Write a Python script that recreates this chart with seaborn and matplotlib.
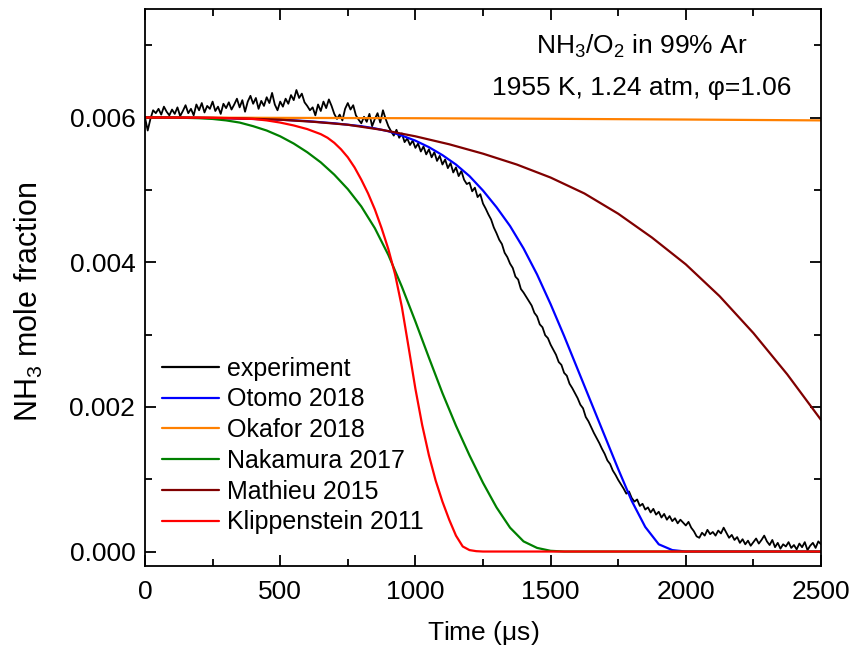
import numpy as np
import pandas as pd
import matplotlib
matplotlib.use("Agg")
import matplotlib.pyplot as plt
import seaborn as sns
from matplotlib.ticker import MultipleLocator, FormatStrFormatter

# ---------------- data ----------------
exp_dt = 10
exp_vals = [
    0.00600, 0.00582, 0.00598, 0.00610, 0.00606, 0.00612, 0.00604, 0.00615, 0.00608, 0.00603,
    0.00611, 0.00605, 0.00614, 0.00602, 0.00609, 0.00617, 0.00606, 0.00612, 0.00603, 0.00618,
    0.00610, 0.00620, 0.00607, 0.00616, 0.00612, 0.00622, 0.00609, 0.00615, 0.00605, 0.00619,
    0.00613, 0.00621, 0.00611, 0.00618, 0.00626, 0.00614, 0.00624, 0.00608, 0.00622, 0.00630,
    0.00619, 0.00627, 0.00612, 0.00623, 0.00616, 0.00628, 0.00620, 0.00634, 0.00618, 0.00610,
    0.00622, 0.00615, 0.00626, 0.00619, 0.00631, 0.00624, 0.00638, 0.00627, 0.00633, 0.00621,
    0.00616, 0.00610, 0.00614, 0.00603, 0.00618, 0.00609, 0.00622, 0.00613, 0.00625, 0.00616,
    0.00605, 0.00598, 0.00604, 0.00596, 0.00612, 0.00620, 0.00611, 0.00617, 0.00603, 0.00597,
    0.00592, 0.00601, 0.00594, 0.00605, 0.00588, 0.00598, 0.00606, 0.00593, 0.00610, 0.00598,
    0.00588, 0.00581, 0.00575, 0.00583, 0.00572, 0.00578, 0.00566, 0.00571, 0.00562, 0.00568,
    0.00558, 0.00564, 0.00553, 0.00560, 0.00549, 0.00556, 0.00545, 0.00552, 0.00540, 0.00547,
    0.00535, 0.00542, 0.00530, 0.00537, 0.00524, 0.00531, 0.00519, 0.00526, 0.00514, 0.00508,
    0.00510, 0.00498, 0.00503, 0.00490, 0.00494, 0.00481, 0.00474, 0.00466, 0.00459, 0.00448,
    0.00440, 0.00431, 0.00425, 0.00413, 0.00407, 0.00398, 0.00392, 0.00380, 0.00376, 0.00363,
    0.00358, 0.00352, 0.00346, 0.00340, 0.00330, 0.00325, 0.00314, 0.00310, 0.00299, 0.00295,
    0.00286, 0.00279, 0.00272, 0.00262, 0.00258, 0.00247, 0.00243, 0.00232, 0.00226, 0.00219,
    0.00212, 0.00203, 0.00198, 0.00186, 0.00180, 0.00172, 0.00164, 0.00157, 0.00150, 0.00142,
    0.00135, 0.00126, 0.00121, 0.00112, 0.00106, 0.00099, 0.00093, 0.00087, 0.00080, 0.00083,
    0.00074, 0.00069, 0.00072, 0.00063, 0.00066, 0.00058, 0.00061, 0.00054, 0.00059, 0.00051,
    0.00055, 0.00047, 0.00052, 0.00044, 0.00049, 0.00042, 0.00046, 0.00039, 0.00044, 0.00040,
    0.00036, 0.00041, 0.00033, 0.00028, 0.00021, 0.00019, 0.00026, 0.00022, 0.00030, 0.00024,
    0.00027, 0.00022, 0.00029, 0.00025, 0.00033, 0.00026, 0.00019, 0.00023, 0.00016, 0.00020,
    0.00012, 0.00017, 0.00010, 0.00015, 0.00008, 0.00013, 0.00018, 0.00011, 0.00016, 0.00022,
    0.00014, 0.00009, 0.00016, 0.00006, 0.00012, 0.00004, 0.00010, 0.00007, 0.00013, 0.00005,
    0.00009, 0.00003, 0.00011, 0.00006, 0.00013, 0.00002, 0.00008, 0.00012, 0.00005, 0.00014,
    0.00010,
]
exp_time = [i * exp_dt for i in range(len(exp_vals))]

otomo_t = [0, 100, 200, 300, 400, 500, 600, 700, 800, 850, 900, 950, 1000, 1050, 1100, 1150,
           1200, 1250, 1300, 1350, 1400, 1450, 1500, 1550, 1600, 1650, 1700, 1750, 1800, 1850,
           1900, 1950, 2000, 2500]
otomo_v = [0.006, 0.005999, 0.005995, 0.00599, 0.00598, 0.00597, 0.00595, 0.00592, 0.00588,
           0.00585, 0.00581, 0.00575, 0.00568, 0.00559, 0.00548, 0.00535, 0.00519, 0.00499,
           0.00476, 0.00450, 0.00419, 0.00383, 0.00342, 0.00298, 0.00252, 0.00206, 0.00160,
           0.00114, 0.00070, 0.00034, 0.00010, 0.00002, 0.0, 0.0]

okafor_t = [0, 500, 1000, 1500, 2000, 2500]
okafor_v = [0.006, 0.005995, 0.00599, 0.005982, 0.005972, 0.00596]

nakamura_t = [0, 100, 150, 200, 250, 300, 350, 400, 450, 500, 550, 600, 650, 700, 750, 800,
              850, 900, 950, 1000, 1050, 1100, 1150, 1200, 1250, 1300, 1350, 1400, 1450,
              1500, 1550, 2500]
nakamura_v = [0.006, 0.005998, 0.005995, 0.00599, 0.00598, 0.00596, 0.00593, 0.00588,
              0.00582, 0.00574, 0.00564, 0.00552, 0.00538, 0.00521, 0.00501, 0.00477,
              0.00447, 0.00410, 0.00366, 0.00318, 0.00268, 0.00219, 0.00174, 0.00133,
              0.00095, 0.00061, 0.00033, 0.00014, 0.00005, 0.00001, 0.0, 0.0]

mathieu_t = [0, 125, 250, 375, 500, 625, 750, 875, 1000, 1125, 1250, 1375, 1500, 1625, 1750,
             1875, 2000, 2125, 2250, 2375, 2500]
mathieu_v = [0.006, 0.005999, 0.005995, 0.005985, 0.00597, 0.00594, 0.00590, 0.00583,
             0.00574, 0.00563, 0.00550, 0.00535, 0.00517, 0.00495, 0.00467, 0.00434,
             0.00397, 0.00353, 0.00302, 0.00245, 0.00182]

klip_t = [0, 200, 300, 400, 450, 500, 550, 600, 650, 675, 700, 725, 750, 775, 800, 825, 850,
          875, 900, 925, 950, 975, 1000, 1025, 1050, 1075, 1100, 1125, 1150, 1175, 1200,
          1225, 1250, 2500]
klip_v = [0.006, 0.005998, 0.005993, 0.00598, 0.00596, 0.00593, 0.00589, 0.00584, 0.00577,
          0.00572, 0.00565, 0.00556, 0.00545, 0.00531, 0.00514, 0.00495, 0.00473, 0.00447,
          0.00418, 0.00383, 0.00338, 0.00282, 0.00225, 0.00175, 0.00133, 0.00098, 0.00069,
          0.00044, 0.00022, 0.00007, 0.00002, 0.000005, 0.0, 0.0]

series_names = ["experiment", "Otomo 2018", "Okafor 2018", "Nakamura 2017",
                "Mathieu 2015", "Klippenstein 2011"]
series_colors = ["#000000", "#0000FF", "#FF8000", "#008000", "#800000", "#FF0000"]
series_t = [exp_time, otomo_t, okafor_t, nakamura_t, mathieu_t, klip_t]
series_v = [exp_vals, otomo_v, okafor_v, nakamura_v, mathieu_v, klip_v]

x_ticks = [0, 500, 1000, 1500, 2000, 2500]
y_ticks = [0.000, 0.002, 0.004, 0.006]

# ---------------- style ----------------
sns.set_theme(style="ticks")
plt.rcParams['font.family'] = ['Liberation Sans', 'DejaVu Sans']
plt.rcParams['mathtext.fontset'] = 'custom'
plt.rcParams['mathtext.rm'] = 'Liberation Sans'
plt.rcParams['mathtext.it'] = 'Liberation Sans:italic'
plt.rcParams['text.color'] = 'black'
plt.rcParams['axes.labelcolor'] = 'black'
FS = 19

fig = plt.figure(figsize=(8.53, 6.52), dpi=100)
ax = fig.add_axes([145 / 853, (652 - 566) / 652, 676 / 853, 557 / 652])

for name, t, v, c in zip(series_names, series_t, series_v, series_colors):
    d = pd.DataFrame({"Time": t, "NH3": v})
    sns.lineplot(data=d, x="Time", y="NH3", color=c, label=name, estimator=None,
                 sort=False, linewidth=1.3 if name == "experiment" else 1.6, ax=ax)

ax.set_xlim(0, 2500)
ax.set_ylim(-0.0002, 0.0075)
ax.set_xticks(x_ticks)
ax.set_yticks(y_ticks)
ax.xaxis.set_minor_locator(MultipleLocator(250))
ax.yaxis.set_minor_locator(MultipleLocator(0.001))
ax.yaxis.set_major_formatter(FormatStrFormatter('%.3f'))
ax.tick_params(which='both', direction='in', top=True, right=True, width=1.3,
               labelsize=FS, colors='black')
ax.tick_params(which='major', length=8)
ax.tick_params(which='minor', length=5)
ax.tick_params(axis='x', pad=10)
ax.tick_params(axis='y', pad=7)
for s in ax.spines.values():
    s.set_linewidth(1.3)
    s.set_color('black')

ax.set_xlabel(r"Time ($\mathregular{\mu}$s)", fontsize=FS, labelpad=11)
ax.set_ylabel(r"NH$_\mathregular{3}$ mole fraction", fontsize=22)
ax.yaxis.set_label_coords(-0.148, (566 - 302) / 557)

fig.text(642 / 853, 1 - 46 / 652, r"NH$_\mathregular{3}$/O$_\mathregular{2}$ in 99% Ar",
         ha='center', va='center', fontsize=FS)
fig.text(642 / 853, 1 - 88 / 652, "1955 K, 1.24 atm, φ=1.06",
         ha='center', va='center', fontsize=FS)

leg = ax.legend(loc='upper left', bbox_to_anchor=(0.0245, 0.376), frameon=False,
                fontsize=18, handlelength=2.3, handletextpad=0.3, labelspacing=0.27,
                borderaxespad=0, borderpad=0)
for line in leg.get_lines():
    line.set_linewidth(1.6)

fig.savefig("out.png", dpi=100, facecolor='white')
